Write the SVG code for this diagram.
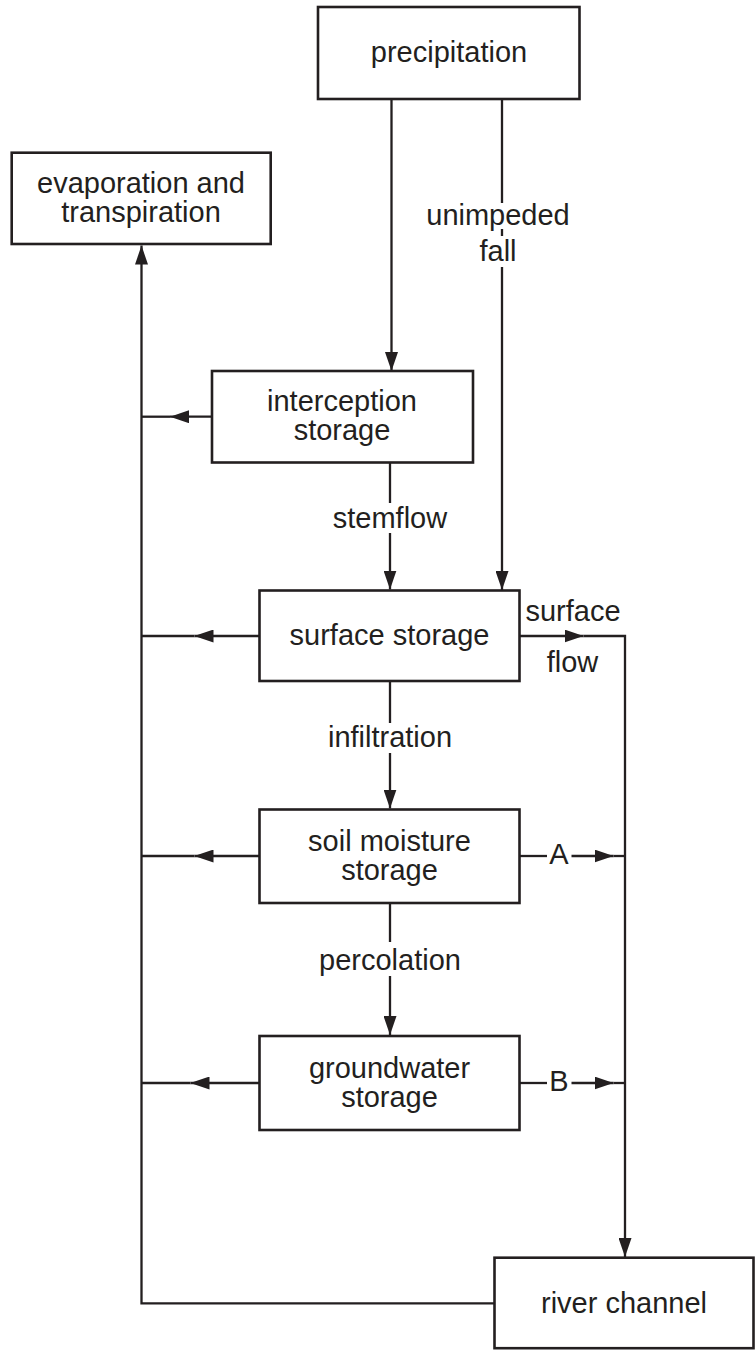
<svg xmlns="http://www.w3.org/2000/svg" width="756" height="1353" viewBox="0 0 756 1353">
<style>
.box{fill:#fff;stroke:#231f20;stroke-width:2.6}
.ln{fill:none;stroke:#231f20;stroke-width:2.3}
text{font-family:"Liberation Sans",Arial,Helvetica,sans-serif;font-size:29px;fill:#231f20;text-anchor:middle}
</style>
<defs>
<marker id="ah" markerUnits="userSpaceOnUse" viewBox="0 0 19 13" markerWidth="19" markerHeight="13" refX="19" refY="6.5" orient="auto">
<path d="M0,0 L19,6.5 L0,13 z" fill="#231f20"/>
</marker>
</defs>
<rect width="756" height="1353" fill="#fff"/>
<g id="connectors">
<path class="ln" d="M391.5,99 V371" marker-end="url(#ah)"/>
<path class="ln" d="M502,99 V203 M502,229 V236"/>
<path class="ln" d="M502,267 V590" marker-end="url(#ah)"/>
<path class="ln" d="M212,416.7 H170" marker-end="url(#ah)"/>
<path class="ln" d="M170,416.7 H141.5"/>
<path class="ln" d="M494.5,1303.3 H141.5 V245.5" marker-end="url(#ah)"/>
<path class="ln" d="M390,463 V503"/>
<path class="ln" d="M390,533 V589.5" marker-end="url(#ah)"/>
<path class="ln" d="M259.5,636 H194.5" marker-end="url(#ah)"/>
<path class="ln" d="M194.5,636 H141.5"/>
<path class="ln" d="M519.5,636 H583.5" marker-end="url(#ah)"/>
<path class="ln" d="M583.5,636 H625 V1257" marker-end="url(#ah)"/>
<path class="ln" d="M390,681 V723"/>
<path class="ln" d="M390,753 V808.5" marker-end="url(#ah)"/>
<path class="ln" d="M259.5,856 H194.5" marker-end="url(#ah)"/>
<path class="ln" d="M194.5,856 H141.5"/>
<path class="ln" d="M519.5,856 H547"/>
<path class="ln" d="M571.5,856 H613.5" marker-end="url(#ah)"/>
<path class="ln" d="M613.5,856 H625"/>
<path class="ln" d="M390,903 V942"/>
<path class="ln" d="M390,976 V1035" marker-end="url(#ah)"/>
<path class="ln" d="M259.5,1083 H190.5" marker-end="url(#ah)"/>
<path class="ln" d="M190.5,1083 H141.5"/>
<path class="ln" d="M519.5,1083 H547"/>
<path class="ln" d="M571.5,1083 H613.5" marker-end="url(#ah)"/>
<path class="ln" d="M613.5,1083 H625"/>
<text x="498" y="225">unimpeded</text>
<text x="498" y="261">fall</text>
<text x="390" y="528">stemflow</text>
<text x="573" y="621">surface</text>
<text x="572.5" y="672">flow</text>
<text x="390" y="747">infiltration</text>
<text x="559" y="863.5">A</text>
<text x="390" y="970">percolation</text>
<text x="559" y="1091">B</text>
</g>
<g id="precipitation">
<rect class="box" x="318" y="7" width="261.5" height="92"/>
<text x="449" y="62">precipitation</text>
</g>
<g id="evaporation">
<rect class="box" x="11.7" y="152.7" width="259" height="91.3"/>
<text x="141" y="193">evaporation and</text>
<text x="141" y="222">transpiration</text>
</g>
<g id="interception">
<rect class="box" x="212" y="371" width="261" height="91.5"/>
<text x="342" y="411">interception</text>
<text x="342" y="440">storage</text>
</g>
<g id="surface">
<rect class="box" x="259.5" y="590.5" width="260" height="90.5"/>
<text x="389.5" y="645">surface storage</text>
</g>
<g id="soil">
<rect class="box" x="259.5" y="809.5" width="260" height="93.5"/>
<text x="389.5" y="850.5">soil moisture</text>
<text x="389.5" y="879.5">storage</text>
</g>
<g id="groundwater">
<rect class="box" x="259.5" y="1036" width="260" height="94"/>
<text x="389.5" y="1078">groundwater</text>
<text x="389.5" y="1107">storage</text>
</g>
<g id="river">
<rect class="box" x="494.5" y="1257.7" width="259" height="90.5"/>
<text x="624" y="1313">river channel</text>
</g>
</svg>
